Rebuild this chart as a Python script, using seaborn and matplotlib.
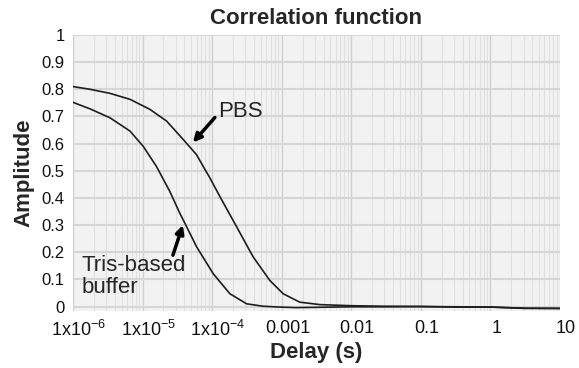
import matplotlib
matplotlib.use("Agg")
import matplotlib.pyplot as plt
import matplotlib.transforms as mtransforms
from matplotlib.ticker import LogLocator, FixedLocator, NullFormatter
import numpy as np
import pandas as pd
import seaborn as sns

# log10 of delay (s) and amplitude
pbs_log_delay = [-6.0, -5.756, -5.468, -5.18, -4.894, -4.654, -4.415, -4.223, -4.128, -4.03,
                 -3.888, -3.648, -3.41, -3.17, -2.978, -2.74, -2.45, -2.0, -1.5, -1.0,
                 -0.5, 0.0, 0.5, 1.0]
pbs_amp = [0.810, 0.800, 0.785, 0.763, 0.726, 0.683, 0.615, 0.559, 0.516, 0.473,
           0.405, 0.294, 0.183, 0.096, 0.047, 0.016, 0.007, 0.003, 0.001, 0.0,
           -0.001, -0.002, -0.007, -0.007]

tris_log_delay = [-6.0, -5.756, -5.468, -5.18, -4.99, -4.80, -4.606, -4.463, -4.415, -4.223,
                  -3.984, -3.744, -3.504, -3.266, -3.03, -2.8, -2.5, -2.0, -1.5, -1.0,
                  -0.5, 0.0, 0.5, 1.0]
tris_amp = [0.752, 0.728, 0.695, 0.646, 0.590, 0.516, 0.423, 0.343, 0.319, 0.220,
            0.121, 0.047, 0.010, 0.001, -0.002, -0.004, -0.003, -0.001, -0.001, 0.0,
            -0.002, -0.002, -0.006, -0.007]

x_ticks = [1e-6, 1e-5, 1e-4, 1e-3, 1e-2, 1e-1, 1, 10]
x_tick_labels = ["1x10$^{-6}$", "1x10$^{-5}$", "1x10$^{-4}$", "0.001", "0.01", "0.1", "1", "10"]
y_ticks = [0, 0.1, 0.2, 0.3, 0.4, 0.5, 0.6, 0.7, 0.8, 0.9, 1.0]
y_tick_labels = ["0", "0.1", "0.2", "0.3", "0.4", "0.5", "0.6", "0.7", "0.8", "0.9", "1"]

sns.set_style("white")
plt.rcParams["font.family"] = ["Liberation Sans", "DejaVu Sans"]
plt.rcParams["mathtext.fontset"] = "custom"
plt.rcParams["mathtext.rm"] = "Liberation Sans"
plt.rcParams["mathtext.it"] = "Liberation Sans:italic"
plt.rcParams["mathtext.bf"] = "Liberation Sans:bold"
plt.rcParams["mathtext.default"] = "regular"

df = pd.concat([
    pd.DataFrame({"delay": 10.0 ** np.array(pbs_log_delay), "amp": pbs_amp, "buffer": "PBS"}),
    pd.DataFrame({"delay": 10.0 ** np.array(tris_log_delay), "amp": tris_amp, "buffer": "Tris"}),
])

fig = plt.figure(figsize=(5.79, 3.68), dpi=100)
ax = fig.add_axes([0.126, 0.156, 0.841, 0.749])
ax.set_facecolor("#f2f2f2")

sns.lineplot(data=df, x="delay", y="amp", units="buffer", estimator=None,
             color="#1e1e1e", lw=1.2, ax=ax, legend=False)

ax.set_xscale("log")
ax.set_xlim(1e-6, 10)
ax.set_ylim(-0.015, 1.0)

ax.xaxis.set_major_locator(FixedLocator(x_ticks))
ax.set_xticklabels(x_tick_labels)
ax.xaxis.set_minor_locator(LogLocator(base=10, subs=np.arange(2, 10), numticks=20))
ax.xaxis.set_minor_formatter(NullFormatter())
ax.set_yticks(y_ticks)
ax.set_yticklabels(y_tick_labels)

ax.grid(which="major", axis="x", color="#cfcfcf", lw=1.0)
ax.grid(which="minor", axis="x", color="#e0e0e0", lw=0.8)
ax.grid(which="major", axis="y", color="#d6d6d6", lw=1.5)
ax.set_axisbelow(True)
for s in ax.spines.values():
    s.set_visible(False)

ax.tick_params(axis="both", which="both", length=0, colors="#111111")
ax.tick_params(axis="x", pad=7, labelsize=13)
ax.tick_params(axis="y", pad=6, labelsize=12)
shift = mtransforms.ScaledTranslation(6 / 100, 0, fig.dpi_scale_trans)
for lab in ax.get_xticklabels():
    lab.set_transform(lab.get_transform() + shift)

ax.set_title("Correlation function", fontsize=16, fontweight="bold", pad=8)
ax.set_xlabel("Delay (s)", fontsize=16, fontweight="bold", labelpad=1)
ax.set_ylabel("Amplitude", fontsize=16, fontweight="bold", labelpad=5)

arrow = dict(arrowstyle="-|>", lw=2.5, color="black", mutation_scale=12, shrinkA=0, shrinkB=0)
ax.annotate("", xy=(10 ** -4.276, 0.604), xytext=(10 ** -3.96, 0.696), arrowprops=arrow)
ax.text(10 ** -3.917, 0.719, "PBS", fontsize=16, ha="left", va="center")
ax.annotate("", xy=(10 ** -4.42, 0.30), xytext=(10 ** -4.563, 0.189), arrowprops=arrow)
ax.text(10 ** -5.87, 0.19, "Tris-based\nbuffer", fontsize=16, ha="left", va="top", linespacing=1.05)

fig.savefig("out.png", dpi=100)
